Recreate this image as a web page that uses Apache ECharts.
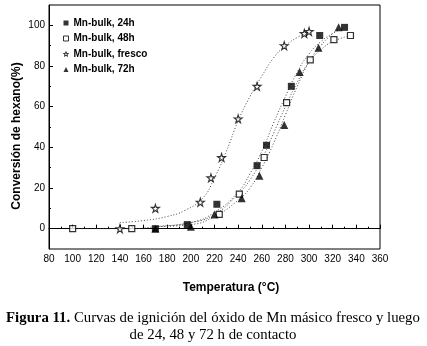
<!DOCTYPE html>
<html>
<head>
<meta charset="utf-8">
<script src="https://cdn.jsdelivr.net/npm/echarts@6/dist/echarts.min.js"></script>
<style>
  html, body { margin: 0; padding: 0; background: #fff; }
  #chart { width: 427px; height: 346px; }
</style>
</head>
<body>
<div id="chart"></div>
<script>
// puntos medidos: [temperatura, conversion]
var mn24 = [[170,0],[197,2],[222,12],[256,31],[264,41],[285,70],[309,95],[330,99]];
var mn48 = [[100,0],[150,0],[224,7],[241,17],[262,35],[281,62],[301,83],[321,93],[335,95]];
var fresco = [[140,0],[170,10],[208,13],[217,25],[226,35],[240,54],[256,70],[279,90],[296,96],[300,97]];
var mn72 = [[170,0],[200,1],[220,7],[243,15],[258,26],[279,51],[292,77],[308,89],[325,99]];

// curvas de ajuste
var fit24 = [[170,1],[200,3],[220,8],[240,18],[250,27],[260,38],[270,52],[280,65],[290,77],[300,86],[310,92],[320,96],[330,99]];
var fit48 = [[100,0],[150,0],[170,1],[200,3],[220,7],[240,17],[250,24],[260,34],[270,47],[280,60],[290,72],[300,82],[310,88],[320,92],[335,95]];
var fitFresco = [[140,3],[160,4],[180,6],[195,9],[210,15],[220,25],[230,38],[240,53],[250,65],[260,75],[270,84],[280,90],[290,94],[300,97]];
var fit72 = [[170,1],[200,2],[220,6],[240,14],[250,20],[260,30],[270,42],[280,56],[290,70],[300,82],[310,90],[320,96],[325,98]];

var yMajor = [0, 20, 40, 60, 80, 100];
var yMinor = [10, 30, 50, 70, 90];

var starPath = 'path://M50,0 L61,35 L98,35 L68,57 L79,91 L50,70 L21,91 L32,57 L2,35 L39,35 Z';

var fitLine = {
    color: '#444',
    width: 1,
    type: [1, 2]
};

function fitSeries(data) {
    return {
        type: 'line',
        data: data,
        smooth: 0.5,
        symbol: 'none',
        lineStyle: fitLine,
        silent: true,
        z: 1
    };
}

var option = {
    animation: false,
    grid: {
        left: 49,
        right: 47,
        top: 5,
        bottom: 97,
        show: true,
        borderColor: '#000',
        borderWidth: 1
    },
    legend: {
        left: 58,
        top: 12,
        orient: 'vertical',
        itemWidth: 5,
        itemHeight: 5,
        itemGap: 3.5,
        data: [
            { name: 'Mn-bulk, 24h', icon: 'rect', itemStyle: { color: '#000', borderWidth: 0 } },
            { name: 'Mn-bulk, 48h', icon: 'rect', itemStyle: { color: '#fff', borderColor: '#000', borderWidth: 1 } },
            { name: 'Mn-bulk, fresco', icon: starPath, itemStyle: { color: '#fff', borderColor: '#000', borderWidth: 1 } },
            { name: 'Mn-bulk, 72h', icon: 'triangle', itemStyle: { color: '#000', borderWidth: 0 } }
        ],
        textStyle: {
            fontFamily: 'Liberation Sans',
            fontWeight: 'bold',
            fontSize: 10,
            lineHeight: 12,
            color: '#000'
        }
    },
    xAxis: {
        type: 'value',
        min: 80,
        max: 360,
        interval: 20,
        axisLine: { lineStyle: { color: '#000' } },
        axisTick: { inside: true, length: 4, lineStyle: { color: '#000' } },
        minorTick: { show: true, splitNumber: 2, length: 2, lineStyle: { color: '#000' } },
        splitLine: { show: false },
        axisLabel: {
            margin: 5,
            fontFamily: 'Liberation Sans',
            fontSize: 10,
            color: '#000'
        }
    },
    yAxis: [{
        type: 'value',
        min: -10,
        max: 110,
        axisLine: { show: true, lineStyle: { color: '#000' } },
        axisTick: { inside: true, length: 4, customValues: yMajor, lineStyle: { color: '#000' } },
        splitLine: { show: false },
        axisLabel: {
            margin: 4,
            customValues: yMajor,
            fontFamily: 'Liberation Sans',
            fontSize: 10,
            color: '#000'
        }
    }, {
        type: 'value',
        position: 'left',
        min: -10,
        max: 110,
        axisLine: { show: false },
        axisTick: { show: true, inside: true, length: 2, customValues: yMinor, lineStyle: { color: '#000' } },
        splitLine: { show: false },
        axisLabel: { show: false }
    }],
    series: [
        fitSeries(fit24),
        fitSeries(fit48),
        fitSeries(fitFresco),
        fitSeries(fit72),
        {
            name: 'Mn-bulk, 24h',
            type: 'scatter',
            data: mn24,
            symbol: 'rect',
            symbolSize: 7,
            itemStyle: { color: '#000' },
            z: 3
        },
        {
            name: 'Mn-bulk, 48h',
            type: 'scatter',
            data: mn48,
            symbol: 'rect',
            symbolSize: 6,
            itemStyle: { color: '#fff', borderColor: '#000', borderWidth: 1.2 },
            z: 3
        },
        {
            name: 'Mn-bulk, fresco',
            type: 'scatter',
            data: fresco,
            symbol: starPath,
            symbolSize: 8,
            itemStyle: { color: '#fff', borderColor: '#000', borderWidth: 1.1 },
            z: 3
        },
        {
            name: 'Mn-bulk, 72h',
            type: 'scatter',
            data: mn72,
            symbol: 'triangle',
            symbolSize: 8,
            itemStyle: { color: '#000' },
            z: 3
        }
    ],
    graphic: [
        {
            type: 'text',
            x: 17,
            y: 136,
            rotation: Math.PI / 2,
            style: {
                text: 'Conversión de hexano(%)',
                fontFamily: 'Liberation Sans',
                fontWeight: 'bold',
                fontSize: 12,
                fill: '#000',
                align: 'center',
                verticalAlign: 'middle'
            }
        },
        {
            type: 'text',
            x: 231,
            y: 288,
            style: {
                text: 'Temperatura (°C)',
                fontFamily: 'Liberation Sans',
                fontWeight: 'bold',
                fontSize: 12,
                fill: '#000',
                align: 'center',
                verticalAlign: 'middle'
            }
        },
        {
            type: 'text',
            x: 213,
            y: 318,
            style: {
                text: '{b|Figura 11.} Curvas de ignición del óxido de Mn másico fresco y luego',
                fontFamily: 'Liberation Serif',
                fontSize: 14.8,
                fill: '#000',
                align: 'center',
                verticalAlign: 'middle',
                rich: {
                    b: { fontFamily: 'Liberation Serif', fontSize: 14.8, fontWeight: 'bold', fill: '#000' }
                }
            }
        },
        {
            type: 'text',
            x: 213,
            y: 335,
            style: {
                text: 'de 24, 48 y 72 h de contacto',
                fontFamily: 'Liberation Serif',
                fontSize: 14.8,
                fill: '#000',
                align: 'center',
                verticalAlign: 'middle'
            }
        }
    ]
};

var myChart = echarts.init(document.getElementById('chart'));
myChart.setOption(option);
</script>
</body>
</html>
